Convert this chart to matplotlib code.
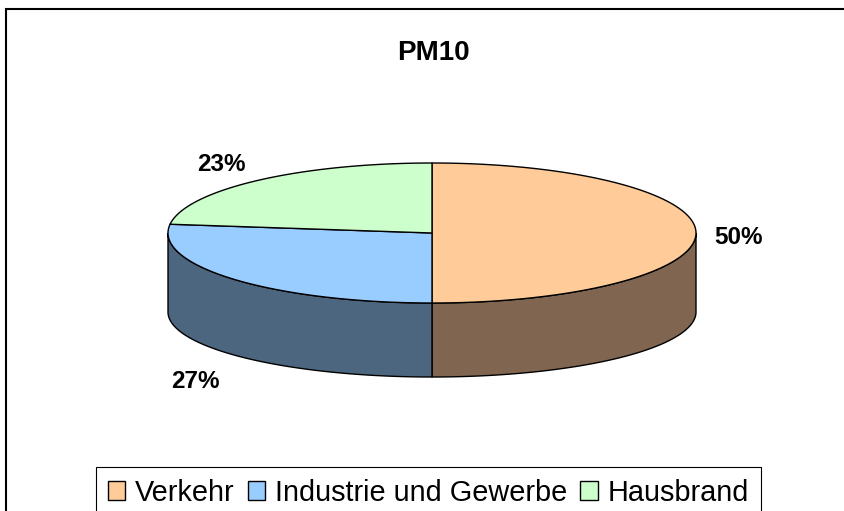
import numpy as np
import matplotlib; matplotlib.use("Agg")
import matplotlib.pyplot as plt
from matplotlib.patches import Polygon, Patch

plt.rcParams["font.family"] = ["Liberation Sans", "DejaVu Sans"]

labels = ["Verkehr", "Industrie und Gewerbe", "Hausbrand"]
shares = [50, 27, 23]
pct_text = ["50%", "27%", "23%"]
top_col = ["#FFCC99", "#99CCFF", "#CCFFCC"]
side_col = ["#806650", "#4D6680", "#668066"]
title = "PM10"

# pie geometry in pixel units (axes spans the whole figure)
CX, CY, A, B = 432, 233, 264, 70      # top ellipse
CY2, B2 = 312, 65                     # bottom ellipse
KX, KY = 1.07, 1.4

fig = plt.figure(figsize=(8.45, 5.11), dpi=100)
ax = fig.add_axes([0, 0, 1, 1])
ax.set_xlim(0, 845); ax.set_ylim(511, 0); ax.axis("off")

# outer chart frame, only left and top edges are inside the picture
ax.plot([6, 6, 845], [511, 9, 9], color="black", lw=1.5, solid_joinstyle="miter")

def top_pt(t): return CX + A * np.cos(t), CY - B * np.sin(t)
def bot_pt(t): return CX + A * np.cos(t), CY2 - B2 * np.sin(t)

frac = np.array(shares) / np.sum(shares)
edges = 90 - 360 * np.concatenate([[0], np.cumsum(frac)])

# side walls of front half
for i in range(len(shares)):
    t1, t2 = edges[i], edges[i + 1]
    hi, lo = min(t1, 0), max(t2, -180)
    if hi <= lo:
        continue
    ts = np.radians(np.linspace(hi, lo, 120))
    up = np.column_stack(top_pt(ts)); dn = np.column_stack(bot_pt(ts[::-1]))
    ax.add_patch(Polygon(np.vstack([up, dn]), closed=True, fc=side_col[i], ec="black", lw=1.0))

# top faces
for i in range(len(shares)):
    ts = np.radians(np.linspace(edges[i], edges[i + 1], 200))
    pts = np.vstack([[CX, CY], np.column_stack(top_pt(ts))])
    ax.add_patch(Polygon(pts, closed=True, fc=top_col[i], ec="black", lw=1.0, joinstyle="round"))

# percentage labels
for i in range(len(shares)):
    m = np.radians((edges[i] + edges[i + 1]) / 2)
    x = CX + A * KX * np.cos(m)
    y = CY + 5 - B * KY * np.sin(m) + (CY2 - CY if np.sin(m) < -0.01 else 0)
    ax.text(x, y, pct_text[i], ha="left" if np.cos(m) > 0 else "right", va="center",
            fontsize=17.5, fontweight="bold")

ax.text(433, 53, title, ha="center", va="center", fontsize=20, fontweight="bold")

h = [Patch(fc=top_col[i], ec="black", lw=1.0) for i in range(len(shares))]
leg = ax.legend(h, labels, loc="upper left", bbox_to_anchor=(96 / 845, 1 - 467 / 511), ncol=3,
                fontsize=20.8, frameon=True, fancybox=False, edgecolor="black", framealpha=1,
                borderaxespad=0, borderpad=0.4, handlelength=0.6, handleheight=0.6,
                handletextpad=0.35, columnspacing=0.45)
leg.get_frame().set_linewidth(0.8)

fig.savefig("out.png", dpi=100)
